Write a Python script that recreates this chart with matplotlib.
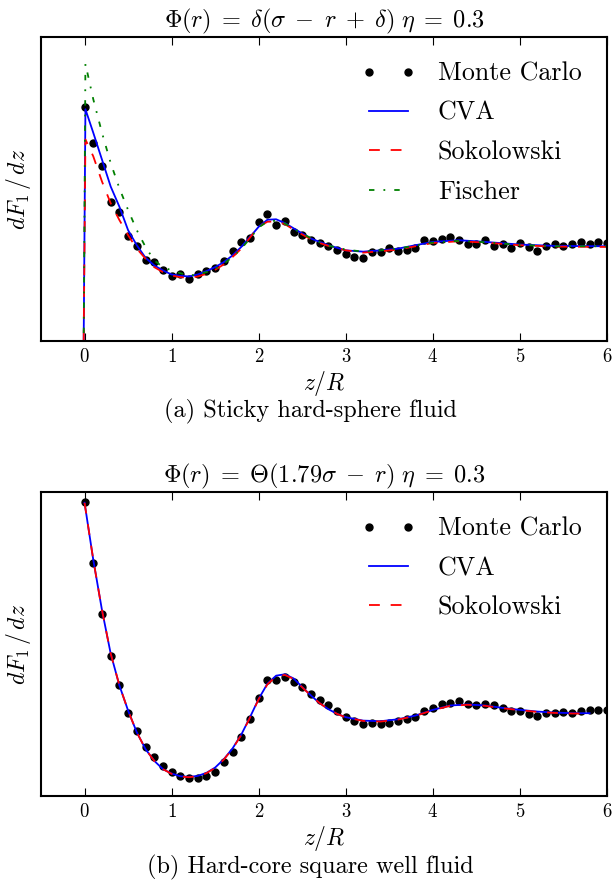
import numpy as np
import matplotlib
matplotlib.use("Agg")
import matplotlib.pyplot as plt
from matplotlib.legend_handler import HandlerLine2D

plt.rcParams['font.family'] = 'cmr10'
plt.rcParams['mathtext.fontset'] = 'cm'
plt.rcParams['axes.formatter.use_mathtext'] = True

# Monte Carlo grid (z/R)
z_mc = np.round(np.arange(0, 6.01, 0.1), 1)

# (a) sticky hard-sphere fluid
mc_a = [2.475, 2.092, 1.851, 1.465, 1.362, 1.113, 1.000, 0.851, 0.830, 0.752,
        0.681, 0.702, 0.652, 0.702, 0.738, 0.766, 0.844, 0.950, 1.043, 1.092,
        1.259, 1.340, 1.220, 1.266, 1.149, 1.121, 1.071, 1.035, 1.000, 0.965,
        0.915, 0.887, 0.879, 0.936, 0.943, 0.986, 0.950, 0.965, 0.979, 1.064,
        1.057, 1.078, 1.099, 1.071, 1.028, 1.021, 1.071, 1.000, 1.028, 0.986,
        1.035, 0.993, 0.950, 1.007, 1.021, 1.000, 1.028, 1.050, 1.028, 1.050,
        1.035]

z_a = [-0.5, -0.01, 0.01, 0.1, 0.2, 0.3, 0.4, 0.5, 0.6, 0.7, 0.8, 0.9, 1.0,
       1.1, 1.2, 1.3, 1.4, 1.5, 1.6, 1.7, 1.8, 1.9, 2.0, 2.1, 2.2, 2.3, 2.4,
       2.5, 2.6, 2.7, 2.8, 3.0, 3.2, 3.4, 3.6, 3.8, 4.0, 4.3, 4.6, 5.0, 5.4, 6.0]
cva_a = [0, 0, 2.447, 2.199, 1.915, 1.631, 1.418, 1.170, 1.011, 0.879, 0.798,
         0.745, 0.702, 0.688, 0.681, 0.702, 0.738, 0.780, 0.833, 0.904, 0.993,
         1.099, 1.206, 1.280, 1.285, 1.245, 1.190, 1.135, 1.082, 1.046, 1.011,
         0.957, 0.943, 0.957, 0.975, 1.011, 1.046, 1.064, 1.046, 1.018, 1.004,
         1.000]
sok_a = [0, 0, 2.128, 1.950, 1.684, 1.454, 1.277, 1.117, 0.975, 0.869, 0.780,
         0.727, 0.691, 0.674, 0.667, 0.681, 0.709, 0.752, 0.809, 0.887, 0.975,
         1.092, 1.206, 1.259, 1.262, 1.234, 1.177, 1.124, 1.074, 1.035, 1.004,
         0.957, 0.933, 0.947, 0.965, 1.000, 1.035, 1.053, 1.039, 1.011, 0.996,
         0.993]
fis_a = [0, 0, 2.926, 2.553, 2.199, 1.879, 1.613, 1.383, 1.170, 0.993, 0.851,
         0.780, 0.745, 0.716, 0.691, 0.702, 0.727, 0.762, 0.816, 0.887, 0.975,
         1.082, 1.199, 1.262, 1.270, 1.241, 1.184, 1.135, 1.085, 1.043, 1.007,
         0.965, 0.943, 0.957, 0.975, 1.007, 1.039, 1.057, 1.043, 1.014, 1.000,
         1.000]

# (b) hard-core square well fluid
mc_b = [3.439, 2.725, 2.129, 1.635, 1.298, 0.976, 0.765, 0.576, 0.459, 0.349,
        0.278, 0.231, 0.208, 0.208, 0.231, 0.278, 0.396, 0.514, 0.686, 0.898,
        1.141, 1.361, 1.353, 1.392, 1.337, 1.275, 1.196, 1.118, 1.063, 0.992,
        0.929, 0.875, 0.843, 0.851, 0.843, 0.851, 0.882, 0.898, 0.922, 1.000,
        1.024, 1.071, 1.086, 1.110, 1.071, 1.063, 1.071, 1.063, 1.024, 0.992,
        1.000, 0.961, 0.937, 0.969, 0.976, 0.984, 0.976, 0.992, 1.008, 1.008,
        1.008]

z_b = [0.0, 0.1, 0.2, 0.3, 0.4, 0.5, 0.6, 0.7, 0.8, 0.9, 1.0, 1.1, 1.2, 1.3,
       1.4, 1.5, 1.6, 1.7, 1.8, 1.9, 2.0, 2.1, 2.2, 2.3, 2.4, 2.5, 2.6, 2.7,
       2.8, 2.9, 3.0, 3.2, 3.4, 3.6, 3.8, 4.0, 4.2, 4.4, 4.6, 4.8, 5.0, 5.2,
       5.4, 5.6, 5.8]
cva_b = [3.431, 2.765, 2.176, 1.667, 1.294, 1.000, 0.745, 0.549, 0.412, 0.314,
         0.263, 0.231, 0.224, 0.235, 0.271, 0.333, 0.431, 0.557, 0.718, 0.922,
         1.137, 1.314, 1.408, 1.424, 1.376, 1.275, 1.176, 1.086, 1.016, 0.961,
         0.922, 0.882, 0.875, 0.898, 0.941, 1.008, 1.059, 1.071, 1.059, 1.031,
         1.008, 0.988, 0.976, 0.969, 0.969]
sok_b = [3.431, 2.765, 2.176, 1.667, 1.294, 1.000, 0.745, 0.549, 0.412, 0.314,
         0.259, 0.227, 0.220, 0.231, 0.267, 0.329, 0.427, 0.553, 0.714, 0.918,
         1.133, 1.306, 1.400, 1.416, 1.370, 1.271, 1.174, 1.086, 1.016, 0.961,
         0.920, 0.878, 0.871, 0.894, 0.937, 1.004, 1.055, 1.067, 1.055, 1.027,
         1.004, 0.984, 0.972, 0.965, 0.965]

fig = plt.figure(figsize=(6.14, 8.82), dpi=100)
ax1 = fig.add_axes([0.0668, 0.6134, 0.9218, 0.3447])
ax2 = fig.add_axes([0.0668, 0.0975, 0.9218, 0.3447])


def style(ax, ylim):
    ax.set_xlim(-0.5, 6)
    ax.set_ylim(0, ylim)
    ax.set_yticks([])
    ax.set_xticks(range(0, 7))
    ax.tick_params(axis='x', direction='in', top=True, length=6, width=0.8,
                   labelsize=13.5, pad=5)
    for s in ax.spines.values():
        s.set_linewidth(1.5)
    ax.set_xlabel('$z/R$', fontsize=17, labelpad=2)
    ax.set_ylabel(r'$dF_1\,/\,dz$', fontsize=17, labelpad=6)


def legend(ax, mc_line):
    ax.legend(loc='upper right', bbox_to_anchor=(0.9735, 0.952),
              borderaxespad=0, frameon=False, fontsize=18.7,
              handlelength=1.5, handletextpad=1.15, labelspacing=0.6,
              handler_map={mc_line: HandlerLine2D(marker_pad=0, numpoints=2)})


mc1, = ax1.plot(z_mc, mc_a, 'ko', markersize=5, label='Monte Carlo')
ax1.plot(z_a, cva_a, color='b', lw=1.3, label='CVA')
ax1.plot(z_a, sok_a, color='r', lw=1.3, dashes=(6, 6), label='Sokolowski')
ax1.plot(z_a, fis_a, color='g', lw=1.3, dashes=(3, 5, 1, 5), label='Fischer')
style(ax1, 3.21)
ax1.set_title(r'$\Phi(r)\;=\;\delta(\sigma\;-\;r\;+\;\delta)\ \eta\;=\;0.3$',
              fontsize=17.5, pad=7)
legend(ax1, mc1)

mc2, = ax2.plot(z_mc, mc_b, 'ko', markersize=5, label='Monte Carlo')
ax2.plot(z_b, cva_b, color='b', lw=1.3, label='CVA')
ax2.plot(z_b, sok_b, color='r', lw=1.3, dashes=(6, 6), label='Sokolowski')
style(ax2, 3.557)
ax2.set_title(r'$\Phi(r)\;=\;\Theta(1.79\sigma\;-\;r)\ \eta\;=\;0.3$',
              fontsize=17.5, pad=7)
legend(ax2, mc2)

fig.text(0.505, 0.533, '(a) Sticky hard-sphere fluid', ha='center', va='center', fontsize=17.5)
fig.text(0.505, 0.017, '(b) Hard-core square well fluid', ha='center', va='center', fontsize=17.5)

fig.savefig('out.png', dpi=100)
